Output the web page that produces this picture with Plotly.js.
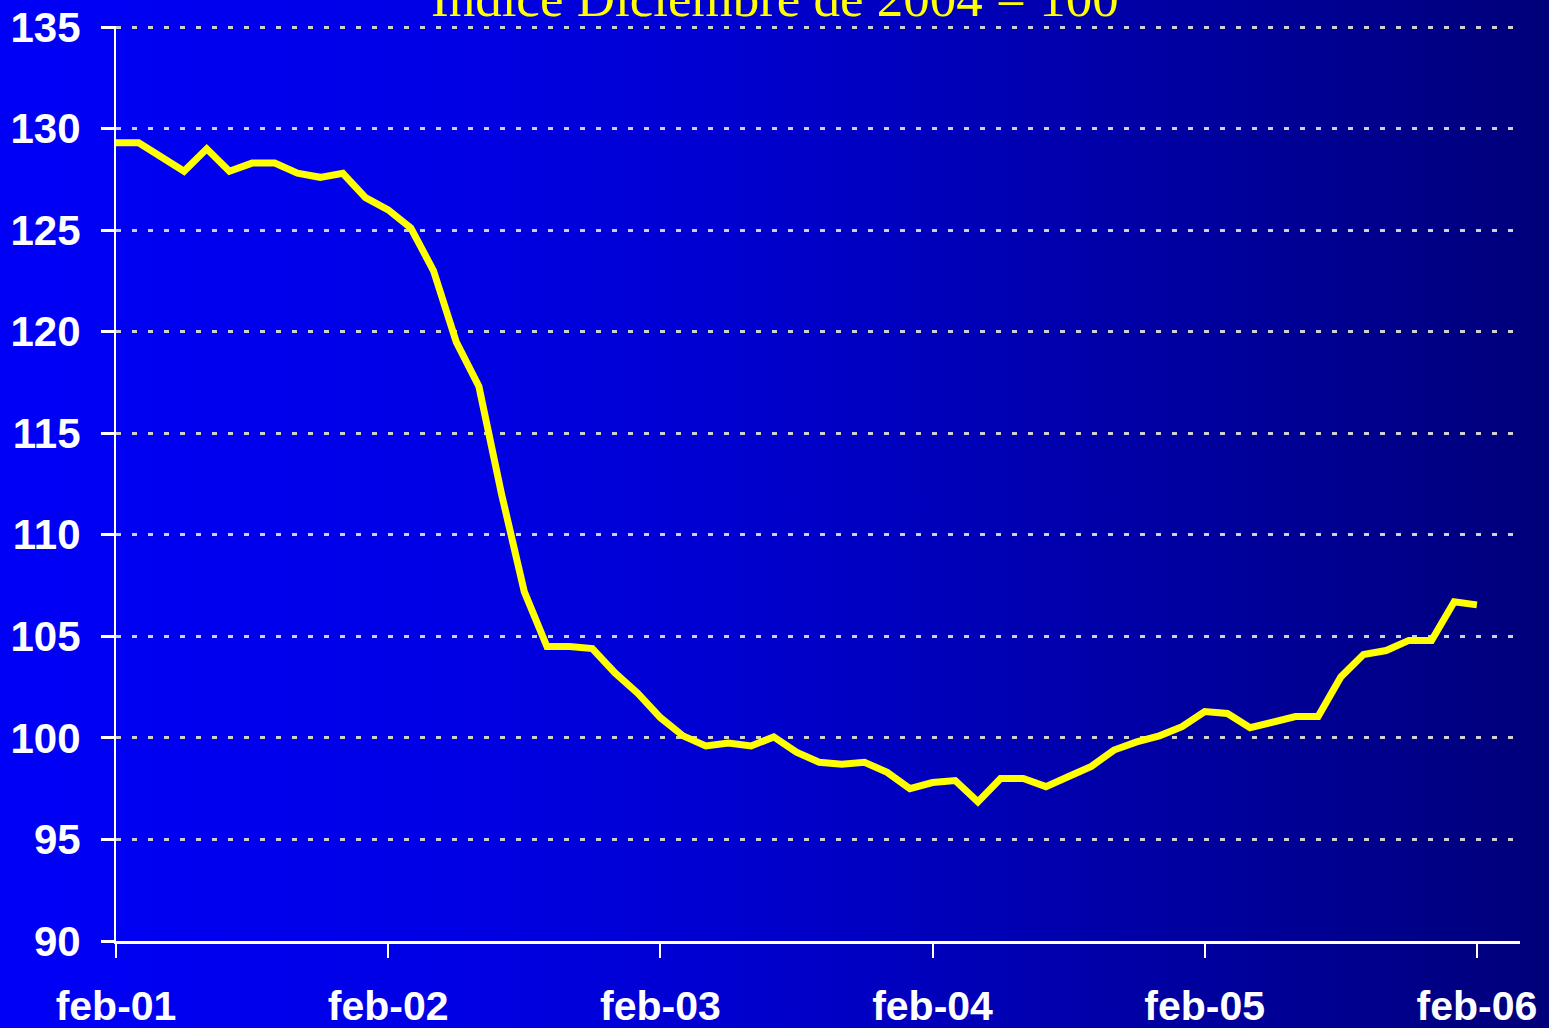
<!DOCTYPE html>
<html>
<head>
<meta charset="utf-8">
<script src="https://cdn.plot.ly/plotly-3.0.1.min.js"></script>
<style>
html,body{margin:0;padding:0;}
body{width:1549px;height:1028px;overflow:hidden;
background:linear-gradient(to right,#0000f8 0%,#0000e4 30%,#0000cc 50%,#0000a8 72%,#00007a 100%);}
#chart{width:1549px;height:1028px;}
</style>
</head>
<body>
<div id="chart"></div>
<script>
const months = [
 "feb-01","mar-01","abr-01","may-01","jun-01","jul-01","ago-01","sep-01","oct-01","nov-01","dic-01",
 "ene-02","feb-02","mar-02","abr-02","may-02","jun-02","jul-02","ago-02","sep-02","oct-02","nov-02","dic-02",
 "ene-03","feb-03","mar-03","abr-03","may-03","jun-03","jul-03","ago-03","sep-03","oct-03","nov-03","dic-03",
 "ene-04","feb-04","mar-04","abr-04","may-04","jun-04","jul-04","ago-04","sep-04","oct-04","nov-04","dic-04",
 "ene-05","feb-05","mar-05","abr-05","may-05","jun-05","jul-05","ago-05","sep-05","oct-05","nov-05","dic-05",
 "ene-06","feb-06"
];
const indexValues = [
 129.3,129.3,128.6,127.9,129.0,127.9,128.3,128.3,127.8,127.6,127.8,
 126.6,126.0,125.1,123.0,119.5,117.3,112.0,107.2,104.5,104.5,104.4,103.2,
 102.2,101.0,100.1,99.6,99.75,99.6,100.05,99.3,98.8,98.7,98.8,98.3,
 97.5,97.8,97.9,96.85,98.0,98.0,97.6,98.1,98.6,99.4,99.8,100.1,
 100.55,101.3,101.2,100.5,100.8,101.05,101.05,103.0,104.1,104.3,104.8,104.8,
 106.7,106.55
];
const xTickLabels = ["feb-01","feb-02","feb-03","feb-04","feb-05","feb-06"];
const yTicks = [90,95,100,105,110,115,120,125,130,135];
const titleText = "Indice Diciembre de 2004 = 100";

const trace = {
  x: months, y: indexValues, type: "scatter", mode: "lines",
  line: {color: "#ffff00", width: 7},
  hoverinfo: "x+y"
};
const layout = {
  width: 1549, height: 1028,
  paper_bgcolor: "rgba(0,0,0,0)", plot_bgcolor: "rgba(0,0,0,0)",
  margin: {l: 116, r: 29, t: 26, b: 87},
  showlegend: false,
  annotations: [{
    text: titleText, showarrow: false,
    font: {family: "Liberation Serif, Times New Roman, serif", size: 53, color: "#ffff00"},
    xref: "paper", x: (774.5 - 116) / (1549 - 116 - 29), xanchor: "center",
    yref: "paper", y: 0.9967, yanchor: "bottom"
  }],
  xaxis: {
    type: "category",
    range: [0, 61.9],
    tickmode: "array", tickvals: xTickLabels, ticktext: xTickLabels,
    ticks: "outside", ticklen: 14, tickwidth: 2, tickcolor: "#ffffff",
    showline: true, linecolor: "#ffffff", linewidth: 3,
    showgrid: false, zeroline: false,
    tickfont: {family: "Liberation Sans, Arial, sans-serif", size: 41, color: "#ffffff", weight: "bold"},
    ticklabelstandoff: 13
  },
  yaxis: {
    range: [90, 135.05],
    tickmode: "array", tickvals: yTicks, ticktext: yTicks.map(String),
    ticks: "outside", ticklen: 13, tickwidth: 3, tickcolor: "#ffffff",
    showline: true, linecolor: "#ffffff", linewidth: 2,
    showgrid: true, gridcolor: "#d0d0d0", gridwidth: 3, griddash: "5px,11px",
    zeroline: false,
    tickfont: {family: "Liberation Sans, Arial, sans-serif", size: 42, color: "#ffffff", weight: "bold"},
    ticklabelstandoff: 12
  }
};
Plotly.newPlot("chart", [trace], layout, {displayModeBar: false, staticPlot: true});
</script>
</body>
</html>
